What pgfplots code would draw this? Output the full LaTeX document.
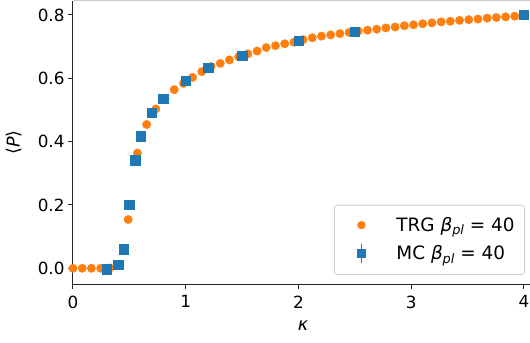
\documentclass[border=0pt]{standalone}
\usepackage{fontspec}
\setmainfont{DejaVu Sans}
\usepackage{pgfplots}
\usepackage{pgfplotstable}
\pgfplotsset{compat=1.18}
\definecolor{mplorange}{HTML}{FF7F0E}
\definecolor{mplblue}{HTML}{1F77B4}
\newcommand{\fs}{\fontsize{16.8bp}{20bp}\selectfont}
\newcommand{\fl}{\fontsize{17.6bp}{21bp}\selectfont}
\newcommand{\fg}{\fontsize{18.4bp}{22bp}\selectfont}
\newcommand{\bpl}{\textit{β}\raisebox{-0.35ex}{\fontsize{12.9bp}{13bp}\selectfont\textit{pl}}}

\pgfplotstableread{
x y
0.0000 0.000
0.0816 0.000
0.1633 0.000
0.2449 0.000
0.3265 0.001
0.4082 0.008
0.4898 0.154
0.5714 0.364
0.6531 0.454
0.7347 0.503
0.8163 0.535
0.8980 0.564
0.9796 0.584
1.0612 0.603
1.1429 0.621
1.2245 0.637
1.3061 0.647
1.3878 0.658
1.4694 0.668
1.5510 0.677
1.6327 0.686
1.7143 0.697
1.7959 0.703
1.8776 0.709
1.9592 0.714
2.0408 0.722
2.1224 0.728
2.2041 0.733
2.2857 0.737
2.3673 0.741
2.4490 0.745
2.5306 0.749
2.6122 0.752
2.6939 0.755
2.7755 0.759
2.8571 0.762
2.9388 0.766
3.0204 0.769
3.1020 0.772
3.1837 0.775
3.2653 0.778
3.3469 0.780
3.4286 0.783
3.5102 0.785
3.5918 0.787
3.6735 0.790
3.7551 0.792
3.8367 0.794
3.9184 0.796
4.0000 0.798
}\trgdata

\pgfplotstableread{
x y e
0.30 -0.003 0.002
0.40 0.011 0.002
0.45 0.060 0.003
0.50 0.200 0.003
0.55 0.341 0.003
0.60 0.417 0.003
0.70 0.492 0.002
0.80 0.535 0.002
1.00 0.592 0.002
1.20 0.633 0.002
1.50 0.672 0.002
2.00 0.718 0.002
2.50 0.747 0.002
4.00 0.800 0.002
}\mcdata

\begin{document}
\begin{tikzpicture}
\begin{axis}[
  scale only axis, width=460bp, height=283.4bp,
  xmin=0, xmax=4.08, ymin=-0.05, ymax=0.845,
  axis lines=left,
  axis line style={-, line width=1bp, black!85},
  every outer x axis line/.append style={-},
  every outer y axis line/.append style={-},
  tick align=outside, major tick length=5bp,
  tick style={line width=1bp, black!85},
  xtick={0,1,2,3,4}, ytick={0,0.2,0.4,0.6,0.8},
  yticklabel style={/pgf/number format/fixed, /pgf/number format/fixed zerofill, /pgf/number format/precision=1},
  xticklabel style={yshift=-3bp},
  /pgf/number format/assume math mode=true,
  tick label style={font=\fs},
  xlabel={\textit{κ}}, ylabel={⟨\textit{P}⟩},
  every axis x label/.style={at={(axis description cs:0.5,0)}, anchor=center, yshift=-42bp, font=\fl},
  every axis y label/.style={at={(axis description cs:-0.1283,0.5)}, anchor=center, rotate=90, font=\fl},
  axis on top,
  legend cell align=left,
  legend style={at={(axis description cs:0.9826,0.032)}, anchor=south east,
    draw=black!20, line width=0.8bp, rounded corners=3bp, fill=white,
    font=\fg, inner xsep=10bp, inner ysep=11bp, row sep=9.6bp, column sep=3bp,
    nodes={inner sep=0pt}},
]
\addplot[only marks, mark=*, mark size=4.2bp, color=mplorange, mark options={draw=none, fill=mplorange},
  legend image code/.code={\path[draw=none, fill=none] (0bp,-9bp) rectangle (49bp,9bp); \fill[mplorange, draw=none] (17bp,0bp) circle (4.2bp);}]
  table[x=x, y=y] {\trgdata};
\addlegendentry{TRG \bpl\ = 40}
\addplot[only marks, mark=square*, mark size=4.7bp, color=mplblue, mark options={draw=none, fill=mplblue},
  legend image code/.code={\path[draw=none, fill=none] (0bp,-9bp) rectangle (49bp,9bp);
  \draw[mplblue, line width=1.3bp, sharp corners] (17bp,-9.3bp) -- (17bp,9.3bp);
  \fill[mplblue, draw=none, sharp corners] (12.3bp,-4.7bp) rectangle (21.7bp,4.7bp);},
  error bars/.cd, y dir=both, y explicit, error bar style={line width=1.3bp, mplblue}, error mark=none]
  table[x=x, y=y, y error=e] {\mcdata};
\addlegendentry{MC \bpl\ = 40}
\draw[black!20, line width=1bp] (rel axis cs:0,1) -- (rel axis cs:1,1);
\end{axis}
\pgfresetboundingbox
\useasboundingbox (current axis.south west) ++(-73bp,-58.9bp) rectangle ++(530bp,343bp);
\end{tikzpicture}
\end{document}
